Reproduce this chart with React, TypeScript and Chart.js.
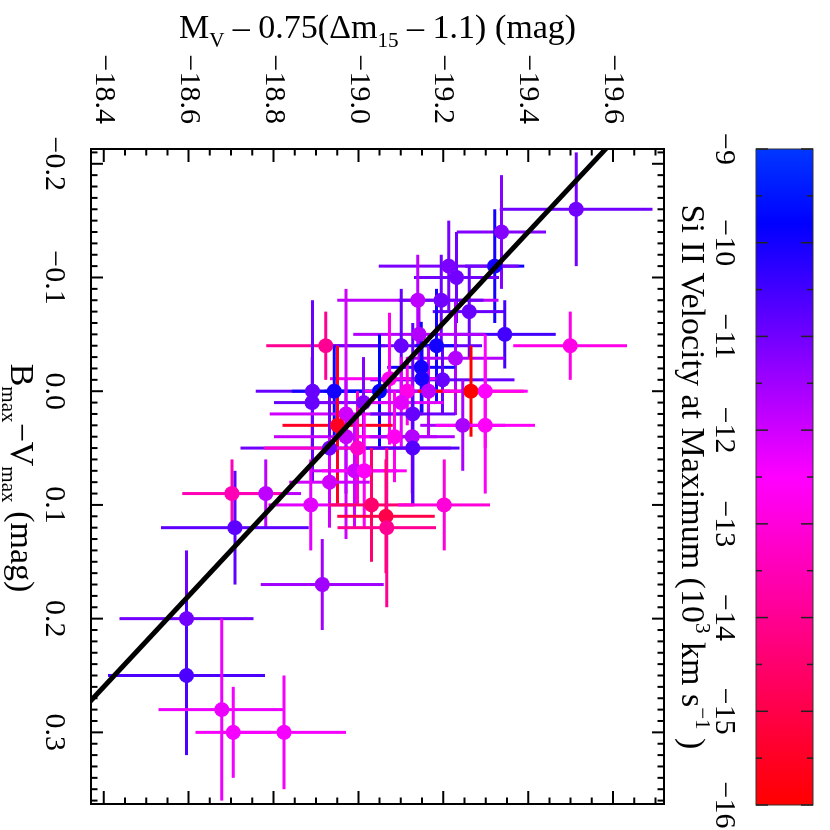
import React, { useEffect, useRef } from "react";
import { Chart, registerables } from "chart.js";

Chart.register(...registerables);

// ---- tick labels ----
const bvTicks = [-0.2, -0.1, 0.0, 0.1, 0.2, 0.3];
const mvTicks = [-18.4, -18.6, -18.8, -19.0, -19.2, -19.4, -19.6];
const velTicks = [-9, -10, -11, -12, -13, -14, -15, -16];

// ---- data: B_max - V_max colour, its error ----
const bv = [
  -0.16, -0.14, -0.11, -0.11, -0.1, -0.08, -0.08, -0.07, -0.05, -0.04,
  -0.04, -0.05, -0.04, -0.04, -0.029, -0.021, -0.01, -0.011, -0.011, 0.0,
  0.0, 0.0, 0.0, 0.0, 0.0, 0.0, 0.01, 0.01, 0.01, 0.02,
  0.02, 0.03, 0.03, 0.03, 0.04, 0.04, 0.04, 0.05, 0.05, 0.05,
  0.07, 0.07, 0.08, 0.09, 0.09, 0.1, 0.1, 0.11, 0.1, 0.12,
  0.12, 0.17, 0.2, 0.25, 0.28, 0.3, 0.3,
];
const bvErr = [
  0.05, 0.05, 0.05, 0.04, 0.04, 0.04, 0.04, 0.04, 0.03, 0.03,
  0.03, 0.03, 0.05, 0.05, 0.05, 0.04, 0.03, 0.03, 0.058, 0.08,
  0.04, 0.05, 0.03, 0.04, 0.04, 0.05, 0.04, 0.04, 0.04, 0.11,
  0.08, 0.07, 0.04, 0.06, 0.05, 0.04, 0.05, 0.05, 0.05, 0.05,
  0.05, 0.05, 0.04, 0.03, 0.03, 0.04, 0.05, 0.05, 0.04, 0.07,
  0.05, 0.04, 0.06, 0.07, 0.08, 0.04, 0.05,
];
// ---- data: corrected absolute magnitude M_V - 0.75(dm15 - 1.1), its error ----
const mv = [
  -19.513, -19.337, -19.321, -19.213, -19.231, -19.14, -19.195, -19.261, -19.345, -19.499,
  -18.923, -19.143, -19.101, -19.184, -19.229, -19.148, -19.198, -19.15, -19.073, -18.892,
  -18.943, -19.05, -19.115, -19.165, -19.265, -19.299, -18.891, -19.012, -19.101, -18.971,
  -19.128, -18.951, -19.246, -19.299, -18.971, -19.085, -19.127, -18.932, -18.998, -19.128,
  -18.991, -19.014, -18.932, -18.782, -18.702, -18.888, -19.031, -19.065, -19.202, -19.067,
  -18.709, -18.915, -18.595, -18.595, -18.678, -18.705, -18.825,
];
const mvErr = [
  0.18, 0.105, 0.07, 0.165, 0.1, 0.19, 0.1, 0.086, 0.12, 0.134,
  0.14, 0.155, 0.19, 0.05, 0.115, 0.08, 0.17, 0.05, 0.14, 0.134,
  0.1, 0.13, 0.1, 0.1, 0.125, 0.1, 0.09, 0.1, 0.1, 0.18,
  0.1, 0.13, 0.1, 0.117, 0.17, 0.1, 0.1, 0.21, 0.22, 0.11,
  0.1, 0.1, 0.095, 0.083, 0.117, 0.1, 0.1, 0.115, 0.108, 0.116,
  0.174, 0.145, 0.158, 0.185, 0.149, 0.089, 0.146,
];
// ---- data: Si II velocity at maximum (10^3 km/s) ----
const vsi = [
  -11.0, -11.2, -10.0, -11.1, -11.0, -11.8, -11.0, -10.9, -10.5, -12.8,
  -14.0, -11.7, -10.9, -10.0, -11.7, -10.0, -10.9, -10.1, -12.7, -10.9,
  -10.0, -9.8, -12.8, -11.8, -16.0, -12.5, -10.9, -11.2, -12.2, -12.0,
  -10.9, -15.5, -11.6, -12.6, -11.9, -12.7, -11.7, -11.0, -13.2, -10.7,
  -12.0, -12.6, -12.0, -11.8, -13.5, -12.2, -14.5, -15.0, -13.0, -14.0,
  -10.8, -11.5, -11.0, -10.6, -12.3, -12.4, -12.4,
];

// ---- fitted relation (end points) ----
const fitBV = [-0.25, 0.4];
const fitMV = [-19.675, -18.05];

const X_MIN = -0.213;
const X_MAX = 0.363;
const Y_MIN = -19.72;
const Y_MAX = -18.37;
const V_LEFT = -9;
const V_RIGHT = -16;

const FAMILY = "'Liberation Serif', 'DejaVu Serif', serif";
const TICK_SIZE = 30;
const TITLE_SIZE = 34;

const cmapStops: [number, number[]][] = [
  [-9, [0, 55, 255]],
  [-9.8, [0, 0, 255]],
  [-12.5, [255, 0, 255]],
  [-16, [255, 0, 0]],
];

function velColor(v: number): string {
  const vv = Math.max(-16, Math.min(-9, v));
  for (let i = 0; i < cmapStops.length - 1; i++) {
    const [a, ca] = cmapStops[i];
    const [b, cb] = cmapStops[i + 1];
    if (vv <= a && vv >= b) {
      const f = (a - vv) / (a - b);
      const c = ca.map((q, k) => Math.round(q + (cb[k] - q) * f));
      return `rgb(${c[0]},${c[1]},${c[2]})`;
    }
  }
  return "rgb(255,0,0)";
}

const fmt = (v: number, d: number) => (v < 0 ? "\u2212" : "") + Math.abs(v).toFixed(d);

type Part = { t: string; k?: "sub" | "sup" };

function partFont(size: number, k?: string) {
  const s = k ? size * 0.62 : size;
  return `${s}px ${FAMILY}`;
}

function drawRich(ctx: CanvasRenderingContext2D, parts: Part[], x: number, y: number, size: number) {
  let total = 0;
  for (const p of parts) {
    ctx.font = partFont(size, p.k);
    total += ctx.measureText(p.t).width;
  }
  let cx = x - total / 2;
  ctx.textAlign = "left";
  ctx.textBaseline = "alphabetic";
  for (const p of parts) {
    ctx.font = partFont(size, p.k);
    const dy = p.k === "sub" ? size * 0.25 : p.k === "sup" ? -size * 0.42 : 0;
    ctx.fillText(p.t, cx, y + dy);
    cx += ctx.measureText(p.t).width;
  }
}

const framePlugin = {
  id: "frame",
  beforeDraw(chart: any) {
    const ctx = chart.ctx as CanvasRenderingContext2D;
    ctx.save();
    ctx.fillStyle = "#fff";
    ctx.fillRect(0, 0, chart.width, chart.height);
    ctx.restore();
  },
  beforeDatasetsDraw(chart: any) {
    const ctx = chart.ctx as CanvasRenderingContext2D;
    const a = chart.chartArea;
    const xs = chart.scales.x;
    const ys = chart.scales.y;
    ctx.save();
    ctx.strokeStyle = "#000";
    ctx.lineWidth = 2;
    ctx.strokeRect(a.left, a.top, a.right - a.left, a.bottom - a.top);
    // inward ticks, x axis (B-V)
    ctx.beginPath();
    for (let k = Math.ceil(X_MIN * 100 - 1e-6); k <= Math.floor(X_MAX * 100 + 1e-6); k++) {
      const px = xs.getPixelForValue(k / 100);
      const len = k % 10 === 0 ? 12 : 6.5;
      ctx.moveTo(px, a.bottom);
      ctx.lineTo(px, a.bottom - len);
      ctx.moveTo(px, a.top);
      ctx.lineTo(px, a.top + len);
    }
    // inward ticks, y axis (M_V)
    for (let k = Math.ceil(Y_MIN * 20 - 1e-6); k <= Math.floor(Y_MAX * 20 + 1e-6); k++) {
      const py = ys.getPixelForValue(k / 20);
      const len = k % 4 === 0 ? 13 : 6.5;
      ctx.moveTo(a.left, py);
      ctx.lineTo(a.left + len, py);
      ctx.moveTo(a.right, py);
      ctx.lineTo(a.right - len, py);
    }
    ctx.stroke();

    // error bars
    ctx.beginPath();
    ctx.rect(a.left, a.top, a.right - a.left, a.bottom - a.top);
    ctx.clip();
    ctx.lineWidth = 3;
    for (let i = 0; i < bv.length; i++) {
      ctx.strokeStyle = velColor(vsi[i]);
      const px = xs.getPixelForValue(bv[i]);
      const py = ys.getPixelForValue(mv[i]);
      ctx.beginPath();
      ctx.moveTo(xs.getPixelForValue(bv[i] - bvErr[i]), py);
      ctx.lineTo(xs.getPixelForValue(bv[i] + bvErr[i]), py);
      ctx.moveTo(px, ys.getPixelForValue(mv[i] - mvErr[i]));
      ctx.lineTo(px, ys.getPixelForValue(mv[i] + mvErr[i]));
      ctx.stroke();
    }
    ctx.restore();
  },
  afterDraw(chart: any) {
    const ctx = chart.ctx as CanvasRenderingContext2D;
    const a = chart.chartArea;
    ctx.save();
    // colour bar
    const cbL = a.left;
    const cbR = a.right + 1;
    const cbT = 17;
    const cbB = 74;
    const vToPx = (v: number) => cbL + ((v - V_LEFT) / (V_RIGHT - V_LEFT)) * (cbR - cbL);
    for (let px = Math.floor(cbL); px < cbR; px++) {
      const v = V_LEFT + ((px + 0.5 - cbL) / (cbR - cbL)) * (V_RIGHT - V_LEFT);
      ctx.fillStyle = velColor(v);
      ctx.fillRect(px, cbT, 1, cbB - cbT);
    }
    ctx.strokeStyle = "#333";
    ctx.lineWidth = 1;
    ctx.strokeRect(cbL, cbT, cbR - cbL, cbB - cbT);
    ctx.strokeStyle = "#222";
    ctx.lineWidth = 1.5;
    ctx.beginPath();
    for (let k = 18; k <= 32; k++) {
      const v = -k / 2;
      const px = vToPx(v);
      const len = k % 2 === 0 ? 12 : 6;
      ctx.moveTo(px, cbT);
      ctx.lineTo(px, cbT + len);
      ctx.moveTo(px, cbB);
      ctx.lineTo(px, cbB - len);
    }
    ctx.stroke();
    ctx.fillStyle = "#000";
    ctx.font = `${TICK_SIZE}px ${FAMILY}`;
    ctx.textAlign = "center";
    ctx.textBaseline = "alphabetic";
    for (const v of velTicks) {
      ctx.fillText(fmt(v, 0), vToPx(v), 114);
    }
    // colour bar title
    drawRich(
      ctx,
      [
        { t: "Si II Velocity at Maximum (10" },
        { t: "3", k: "sup" },
        { t: " km s" },
        { t: "\u22121", k: "sup" },
        { t: " )" },
      ],
      (cbL + cbR) / 2,
      148,
      TITLE_SIZE
    );
    // x title
    drawRich(
      ctx,
      [{ t: "B" }, { t: "max", k: "sub" }, { t: "\u2212V" }, { t: "max", k: "sub" }, { t: " (mag)" }],
      478,
      819,
      TITLE_SIZE
    );
    // y title (rotated)
    ctx.save();
    ctx.translate(38, (a.top + a.bottom) / 2);
    ctx.rotate(-Math.PI / 2);
    drawRich(
      ctx,
      [
        { t: "M" },
        { t: "V", k: "sub" },
        { t: " \u2013 0.75(\u0394m" },
        { t: "15", k: "sub" },
        { t: " \u2013 1.1) (mag)" },
      ],
      0,
      0,
      TITLE_SIZE
    );
    ctx.restore();
    ctx.restore();
  },
};

export default function App() {
  const ref = useRef<HTMLCanvasElement>(null);
  useEffect(() => {
    const canvas = ref.current!;
    const chart = new Chart(canvas, {
      type: "scatter",
      data: {
        datasets: [
          {
            type: "line",
            data: fitBV.map((x, i) => ({ x, y: fitMV[i] })),
            borderColor: "#000",
            borderWidth: 5,
            pointRadius: 0,
            fill: false,
            order: 0,
          } as any,
          {
            type: "scatter",
            data: bv.map((x, i) => ({ x, y: mv[i] })),
            backgroundColor: vsi.map(velColor),
            pointRadius: 7.5,
            pointBorderWidth: 0,
            borderWidth: 0,
            order: 1,
          } as any,
        ],
      },
      options: {
        responsive: false,
        animation: false,
        devicePixelRatio: 1,
        events: [],
        layout: { padding: { top: 166, right: 26, left: 0, bottom: 0 } },
        plugins: { legend: { display: false }, tooltip: { enabled: false } },
        scales: {
          x: {
            type: "linear",
            position: "bottom",
            min: X_MIN,
            max: X_MAX,
            afterBuildTicks: (s: any) => {
              s.ticks = bvTicks.map((v) => ({ value: v }));
            },
            afterFit: (s: any) => {
              s.height = 91;
            },
            grid: { display: false, drawTicks: false },
            border: { display: false },
            ticks: {
              padding: 19,
              autoSkip: false,
              maxRotation: 0,
              minRotation: 0,
              color: "#000",
              font: { family: FAMILY, size: TICK_SIZE },
              callback: (v: any) => fmt(Number(v), 1),
            },
          },
          y: {
            type: "linear",
            position: "left",
            reverse: true,
            min: Y_MIN,
            max: Y_MAX,
            afterBuildTicks: (s: any) => {
              s.ticks = mvTicks.map((v) => ({ value: v }));
            },
            afterFit: (s: any) => {
              s.width = 149;
            },
            grid: { display: false, drawTicks: false },
            border: { display: false },
            ticks: {
              padding: 25,
              autoSkip: false,
              color: "#000",
              font: { family: FAMILY, size: TICK_SIZE },
              callback: (v: any) => fmt(Number(v), 1),
            },
          },
        },
      } as any,
      plugins: [framePlugin],
    });
    return () => chart.destroy();
  }, []);
  return (
    <div
      style={{
        position: "fixed",
        left: 0,
        top: 0,
        width: 830,
        height: 830,
        background: "#fff",
        transform: "rotate(90deg)",
        transformOrigin: "415px 415px",
      }}
    >
      <canvas ref={ref} width={830} height={830} style={{ display: "block", width: 830, height: 830 }} />
    </div>
  );
}
